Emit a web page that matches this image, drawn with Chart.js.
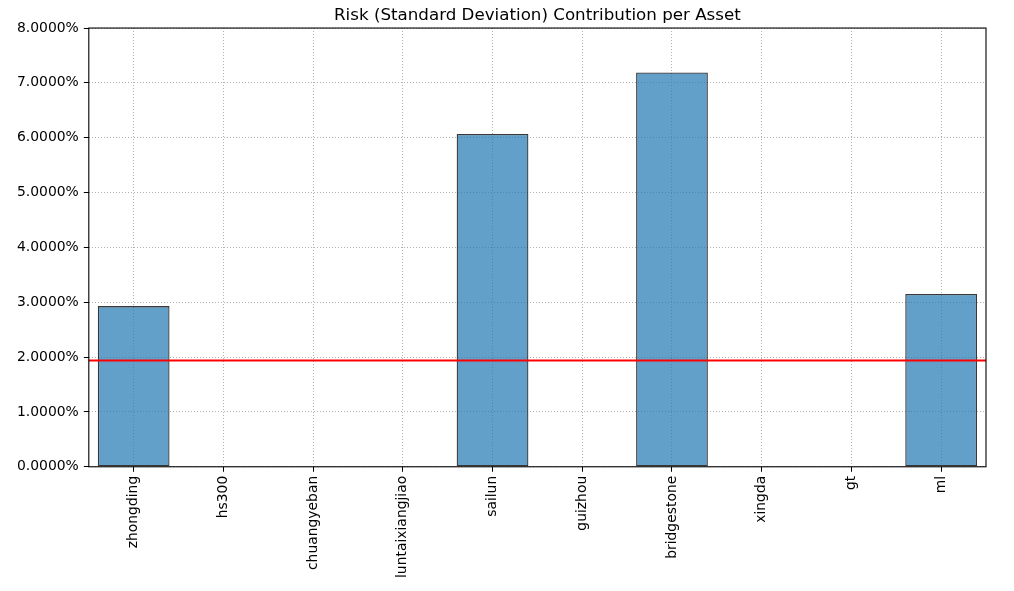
<!DOCTYPE html>
<html>
<head>
<meta charset="utf-8">
<script src="https://cdn.jsdelivr.net/npm/chart.js@4.4.1/dist/chart.umd.min.js"></script>
<style>
  body { margin: 0; background: #fff; }
  #wrap { width: 1014px; height: 591px; }
</style>
</head>
<body>
<div id="wrap"><canvas id="riskChart" width="1014" height="591"></canvas></div>
<script>
// asset names and their risk contribution (percent)
const assets = ["zhongding", "hs300", "chuangyeban", "luntaixiangjiao", "sailun", "guizhou", "bridgestone", "xingda", "gt", "ml"];
const riskContrib = [2.93, 0, 0, 0, 6.07, 0, 7.19, 0, 0, 3.15];
const meanLine = [1.94];
const yTicks = [0, 1, 2, 3, 4, 5, 6, 7, 8];

// red horizontal line + full frame around the plot area
const extras = {
    id: 'extras',
    afterDraw(chart) {
        const ctx = chart.ctx;
        const area = chart.chartArea;
        const yScale = chart.scales.y;
        ctx.save();
        meanLine.forEach(v => {
            const py = yScale.getPixelForValue(v);
            ctx.strokeStyle = '#ff0000';
            ctx.lineWidth = 2;
            ctx.beginPath();
            ctx.moveTo(area.left, py);
            ctx.lineTo(area.right, py);
            ctx.stroke();
        });
        ctx.strokeStyle = '#000';
        ctx.lineWidth = 1.1;
        ctx.strokeRect(area.left, area.top, area.right - area.left, area.bottom - area.top);
        ctx.restore();
    }
};

let ctx = document.getElementById('riskChart').getContext('2d');
let riskChart = new Chart(ctx, {
    type: 'bar',
    data: {
        labels: assets,
        datasets: [{
            data: riskContrib,
            backgroundColor: 'rgba(31, 119, 180, 0.7)',
            borderColor: 'rgba(0, 0, 0, 0.78)',
            borderWidth: 1.3,
            borderSkipped: false,
            categoryPercentage: 1.0,
            barPercentage: 0.8
        }]
    },
    options: {
        responsive: false,
        animation: false,
        devicePixelRatio: 1,
        layout: { padding: { left: 12, right: 28, top: 0, bottom: 9 } },
        plugins: {
            legend: { display: false },
            tooltip: { enabled: false },
            title: {
                display: true,
                fullSize: false,
                text: 'Risk (Standard Deviation) Contribution per Asset',
                color: '#000',
                font: { family: 'DejaVu Sans', size: 16.7, weight: 'normal' },
                padding: { top: 6, bottom: 2 }
            }
        },
        scales: {
            x: {
                z: 1,
                offset: true,
                grid: {
                    offset: false,
                    color: '#b0b0b0',
                    lineWidth: 1,
                    tickColor: '#000',
                    tickLength: 5
                },
                border: { display: false, dash: [1, 2] },
                ticks: {
                    color: '#000',
                    font: { family: 'DejaVu Sans', size: 13.9 },
                    minRotation: 90,
                    maxRotation: 90,
                    autoSkip: false,
                    padding: 4
                }
            },
            y: {
                z: 1,
                min: 0,
                max: 8,
                afterBuildTicks(axis) {
                    axis.ticks = yTicks.map(v => ({ value: v }));
                },
                grid: {
                    color: '#b0b0b0',
                    lineWidth: 1,
                    tickColor: '#000',
                    tickLength: 5
                },
                border: { display: false, dash: [1, 2] },
                ticks: {
                    color: '#000',
                    font: { family: 'DejaVu Sans', size: 13.9 },
                    padding: 5,
                    callback: function (v) { return v.toFixed(4) + '%'; }
                }
            }
        }
    },
    plugins: [extras]
});
</script>
</body>
</html>
